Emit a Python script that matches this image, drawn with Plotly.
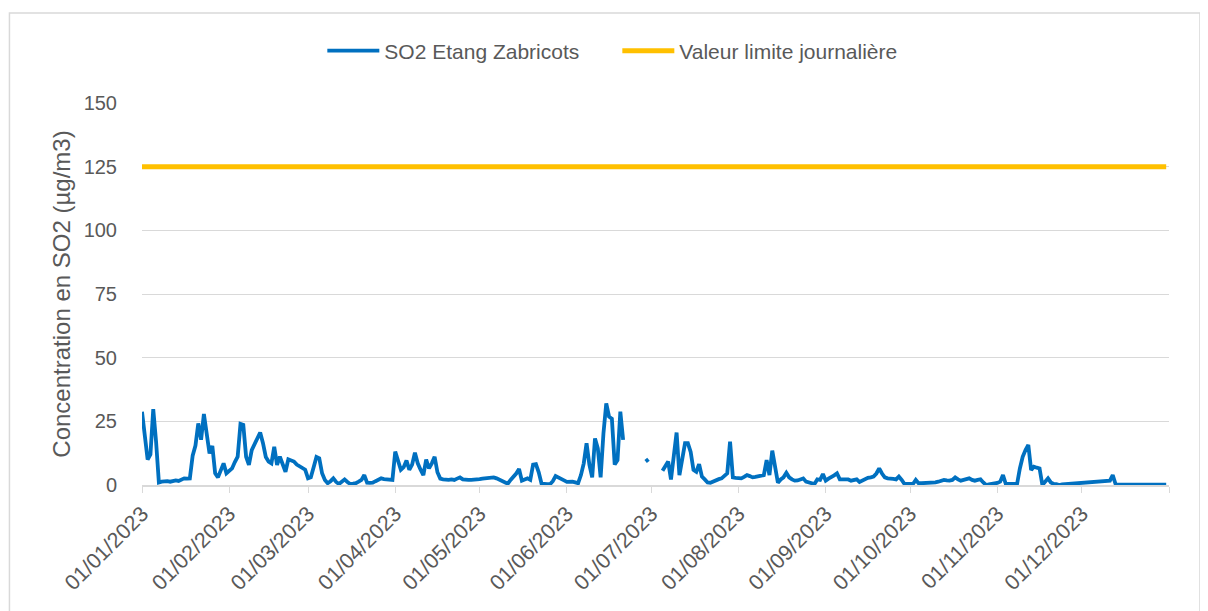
import pandas as pd
import plotly.graph_objects as go

# Daily SO2 concentrations (µg/m3), Etang Zabricots, 2023 (None = missing)
jan = [28.8, 17.5, 10, 12, 29.8, 17, 1, 1.3, 1.5, 1.5, 1.3, 1.5, 1.8, 1.6, 2.3, 2.6,
       2.5, 2.6, 11.5, 15.5, 24.2, 17.8, 27.9, 20, 12.4, 15.3, 4.6, 3, 6, 8.5, 4.6]
feb = [5.5, 6.5, 9, 11.1, 24, 23.6, 11.1, 7.9, 13.7, 16, 19, 20.6, 16.4, 11, 9.2, 8.5,
       15, 7.9, 11.1, 8, 5.2, 10.1, 9.5, 9.2, 8, 7.2, 6.5, 6]
mar = [2.6, 3, 7, 11, 10.5, 4.6, 2, 0.7, 1.5, 2.6, 1.2, 0.4, 1.3, 2.2, 1.2, 0.4,
       0.5, 0.7, 1.3, 2, 3.9, 0.9, 0.8, 0.9, 1.5, 2.2, 2.6, 2.3, 2.2, 2, 2]
apr = [13.1, 9, 6, 7, 9.6, 6, 8, 12.7, 8.5, 6, 3.9, 10, 6.5, 8.5, 11.1, 5,
       2.5, 2.2, 2, 2, 2.2, 2, 2.5, 3, 2.2, 2, 2, 2, 2, 2.2]
may = [2.3, 2.5, 2.6, 2.8, 3, 3, 2.6, 2, 1.5, 0.8, 0.5, 2, 3, 4.5, 6.3, 1.7,
       2.2, 2.6, 2, 8, 8.2, 5, 0.5, 0.3, 0.3, 0.3, 1.5, 3.5, 2.8, 2.2, 1.8]
jun = [1.2, 1.3, 1.3, 1, 0.7, 3.9, 8.5, 16.4, 8, 3, 18.3, 14.4, 3, 20.3, 32, 26.8,
       26, 8, 9.8, 28.8, 17.7, None, None, None, None, None, None, None, 9.2, 10.1]
jul = [None, None, None, None, 5.6, 7.5, 9.2, 2.2, 11, 20.6, 3.9, 10, 16.4, 16.4, 13, 5.9,
       5.2, 8.2, 3.3, 2.2, 1, 0.9, 1.5, 2, 2.3, 2.6, 3.5, 4.6, 17, 3, 2.8]
aug = [2.6, 2.6, 3.2, 3.9, 3.5, 3, 3.2, 3.5, 3.9, 3.9, 9.8, 3.9, 13.5, 6.5, 0.9, 2.2,
       3, 4.8, 3, 2.2, 1.7, 1.8, 2.2, 2.6, 1.3, 1, 0.6, 0.4, 2.2, 2, 4.3]
sep = [1.7, 2.5, 3, 3.8, 4.6, 2.2, 2.2, 2.2, 2.2, 1.7, 2, 2.2, 1.2, 1.8, 2.2, 2.8,
       3, 3.3, 4.5, 6.5, 4.5, 3, 2.6, 2.6, 2.4, 2.2, 3.3, 2, 0.4, 0.4]
oct_ = [0.4, 0.4, 2, 0.7, 0.7, 0.7, 0.7, 0.7, 0.7, 1, 1.3, 1.6, 2, 1.8, 1.7, 2,
        3, 2.2, 1.7, 2, 2.2, 2.6, 2, 1.7, 2, 2.2, 1, 0, 0.2, 0.3, 0.4]
nov = [0.8, 1.3, 3.9, 0.4, 0.4, 0.4, 0.4, 0.4, 6.5, 11.1, 13.7, 15.7, 5.9, 7.2, 6.8, 6.5,
       0, 1.5, 2.6, 1, 0.4, 0.3, 0, 0.2, 0.3, 0.4, 0.6, 0.7, 0.7, 0.8]
dec = [0.9, 0.9, 0.9, 1, 1.1, 1.2, 1.3, 1.4, 1.5, 1.6, 1.7, 3.9, 0.4, 0.1, 0.1, 0.1,
       0.1, 0.1, 0.1, 0.1, 0.1, 0.1, 0.1, 0.1, 0.1, 0.1, 0.1, 0.1, 0.1, 0.1, 0.1]

so2 = jan + feb + mar + apr + may + jun + jul + aug + sep + oct_ + nov + dec
dates = pd.date_range("2023-01-01", "2023-12-31", freq="D")
limit_value = 125

tick_dates = list(pd.date_range("2023-01-01", "2023-12-01", freq="MS")) + [pd.Timestamp("2024-01-01")]
tick_text = [d.strftime("%d/%m/%Y") for d in tick_dates[:-1]] + [""]
y_ticks = [0, 25, 50, 75, 100, 125, 150]

series_name = "SO2 Etang Zabricots"
limit_name = "Valeur limite journalière"
y_title = "Concentration en SO2 (µg/m3)"

fig = go.Figure()
fig.add_trace(go.Scatter(x=dates, y=so2, mode="lines", name=series_name,
                         line=dict(color="#0070C0", width=3.8), connectgaps=False))
fig.add_trace(go.Scatter(x=[dates[0], dates[-1]], y=[limit_value, limit_value], mode="lines",
                         name=limit_name, line=dict(color="#FFC000", width=5)))

# page has an 8px body margin: figure is drawn at (8, 8)
OFF = 8
W, H = 1208 - OFF, 611 - OFF
L, R, T, B = 141.6 - OFF, 1169 - OFF, 103 - OFF, 485 - OFF
pw, ph = R - L, B - T

def px(x_page):
    return (x_page - OFF - L) / pw

def py(y_page):
    return (B - (y_page - OFF)) / ph

fig.update_layout(
    width=W, height=H,
    margin=dict(l=L, r=W - R, t=T, b=H - B, pad=0, autoexpand=False),
    paper_bgcolor="white", plot_bgcolor="white",
    font=dict(family="Liberation Sans, Arial, sans-serif", color="#595959", size=20),
    showlegend=True,
    legend=dict(orientation="h", x=px(322), xanchor="left", y=py(51), yanchor="middle",
                font=dict(family="Liberation Sans Narrow, Liberation Sans, sans-serif",
                          size=21, color="#595959"),
                itemwidth=52, entrywidth=228, entrywidthmode="pixels",
                bgcolor="rgba(0,0,0,0)"),
    xaxis=dict(type="date", range=["2023-01-01", "2024-01-01"], automargin=False,
               tickmode="array", tickvals=tick_dates, ticktext=tick_text,
               tickangle=-45, ticks="outside", ticklen=6, tickcolor="#D9D9D9",
               showgrid=False, showline=True, linecolor="#D9D9D9", linewidth=1.5,
               zeroline=False, tickfont=dict(size=21.5, color="#595959")),
    yaxis=dict(range=[0, 150], tickmode="array", tickvals=y_ticks, automargin=False,
               showgrid=True, gridcolor="#D9D9D9", gridwidth=1.3, zeroline=False,
               showline=False, ticks="outside", ticklen=20, tickcolor="rgba(0,0,0,0)",
               tickfont=dict(size=20, color="#595959"),
               title=dict(text=y_title, standoff=6, font=dict(size=24, color="#595959"))),
    shapes=[dict(type="rect", xref="paper", yref="paper", x0=px(9), x1=px(1200),
                 y0=py(700), y1=py(13), line=dict(color="#D9D9D9", width=1.5),
                 fillcolor="rgba(0,0,0,0)", layer="below")],
)

fig.write_html("out.html")
